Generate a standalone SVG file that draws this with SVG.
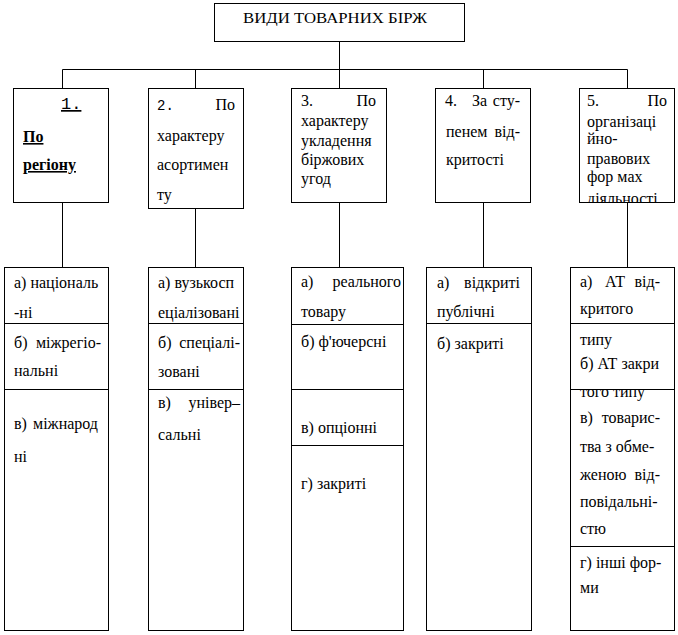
<svg xmlns="http://www.w3.org/2000/svg" width="678" height="635" viewBox="0 0 678 635">
<style>
.b{fill:#fff;stroke:#000;stroke-width:1}
.l{stroke:#000;stroke-width:1;fill:none}
text{font-family:'Liberation Serif','Tinos','Times New Roman','DejaVu Serif',serif;font-size:16px;fill:#000}
text.m{font-family:'Liberation Mono','Cousine','Courier New','DejaVu Sans Mono',monospace}
.e{text-anchor:end}
.u{text-decoration:underline}
.bd{font-weight:bold}
</style>
<defs>
<clipPath id="clip5"><rect x="579" y="88" width="96" height="114"/></clipPath>
<clipPath id="clipc5"><rect x="570" y="390" width="105" height="156"/></clipPath>
</defs>
<rect width="678" height="635" fill="#fff"/>
<g id="connectors">
<path class="l" d="M339.5 41.5V69.5M62.5 69.5H627.5M62.5 69.5V88.5M195.5 69.5V88.5M339.5 69.5V88.5M483.5 69.5V88.5M627.5 69.5V88.5"/>
<path class="l" d="M62.5 202.5V267.5M195.5 208.5V267.5M339.5 202.5V267.5M483.5 202.5V267.5M627.5 202.5V267.5"/>
</g>
<g id="root">
<rect class="b" x="214.5" y="3.5" width="250" height="38"/>
<text x="243" y="23" font-family="Liberation Serif, serif" style="font-size:15px" textLength="184" lengthAdjust="spacingAndGlyphs">ВИДИ ТОВАРНИХ БІРЖ</text>
</g>
<g id="n1">
<rect class="b" x="13.5" y="88.5" width="95" height="114"/>
<text class="m u" x="61" y="109" style="font-size:17px">1.</text>
<text class="bd u" x="23" y="142">По</text>
<text class="bd u" x="23" y="170">регіону</text>
</g>
<g id="n2">
<rect class="b" x="148.5" y="88.5" width="95" height="120"/>
<text class="m" x="157" y="110" style="font-size:14px">2.</text>
<text class="e" x="235" y="110">По</text>
<text x="157" y="141">характеру</text>
<text x="157" y="170">асортимен</text>
<text x="157" y="200">ту</text>
</g>
<g id="n3">
<rect class="b" x="291.5" y="88.5" width="95" height="114"/>
<text x="301" y="106">3.</text>
<text class="e" x="376" y="106">По</text>
<text x="301" y="126">характеру</text>
<text x="301" y="146">укладення</text>
<text x="301" y="165">біржових</text>
<text x="301" y="184">угод</text>
</g>
<g id="n4">
<rect class="b" x="435.5" y="88.5" width="95" height="114"/>
<text x="445" y="106">4.</text>
<text x="472" y="106">За</text>
<text class="e" x="520" y="106">сту-</text>
<text x="446" y="137">пенем</text>
<text class="e" x="520" y="137">від-</text>
<text x="446" y="165">критості</text>
</g>
<g id="n5">
<rect class="b" x="579.5" y="88.5" width="95" height="114"/>
<text x="587" y="106">5.</text>
<text class="e" x="667" y="106">По</text>
<text x="587" y="127">організаці</text>
<text x="587" y="144">йно-</text>
<text x="587" y="164">правових</text>
<text x="587" y="182">фор мах</text>
<text x="587" y="204" clip-path="url(#clip5)">діяльності</text>
</g>
<g id="c1">
<rect class="b" x="4.5" y="267.5" width="104" height="363"/>
<path class="l" d="M4.5 323.5H108.5M4.5 389.5H108.5"/>
<text x="14" y="288">а) національ</text>
<text x="14" y="318">-ні</text>
<text x="14" y="348">б)</text>
<text class="e" x="101" y="348">міжрегіо-</text>
<text x="14" y="376">нальні</text>
<text x="14" y="429">в)</text>
<text x="33" y="429">міжнарод</text>
<text x="14" y="462">ні</text>
</g>
<g id="c2">
<rect class="b" x="148.5" y="267.5" width="95" height="363"/>
<path class="l" d="M148.5 323.5H243.5M148.5 389.5H243.5"/>
<text x="158" y="288">а) вузькосп</text>
<text x="158" y="318">еціалізовані</text>
<text x="158" y="348">б)</text>
<text class="e" x="240" y="348">спеціалі-</text>
<text x="158" y="377">зовані</text>
<text x="158" y="408">в)</text>
<text class="e" x="240" y="408">універ–</text>
<text x="158" y="440">сальні</text>
</g>
<g id="c3">
<rect class="b" x="291.5" y="267.5" width="112" height="363"/>
<path class="l" d="M291.5 324.5H403.5M291.5 389.5H403.5M291.5 445.5H403.5"/>
<text x="301" y="287">а)</text>
<text class="e" x="401" y="287">реального</text>
<text x="301" y="317">товару</text>
<text x="301" y="347">б) ф'ючерсні</text>
<text x="301" y="433">в) опціонні</text>
<text x="301" y="489">г) закриті</text>
</g>
<g id="c4">
<rect class="b" x="426.5" y="267.5" width="105" height="363"/>
<path class="l" d="M426.5 323.5H531.5"/>
<text x="437" y="288">а)</text>
<text class="e" x="520" y="288">відкриті</text>
<text x="437" y="317">публічні</text>
<text x="437" y="349">б) закриті</text>
</g>
<g id="c5">
<rect class="b" x="570.5" y="267.5" width="104" height="363"/>
<path class="l" d="M570.5 323.5H674.5M570.5 389.5H674.5M570.5 546.5H674.5"/>
<text x="580" y="287">а)</text>
<text x="605" y="287">АТ</text>
<text class="e" x="660" y="287">від-</text>
<text x="580" y="314">критого</text>
<text x="580" y="345">типу</text>
<text x="580" y="369">б) АТ закри</text>
<text x="580" y="397" clip-path="url(#clipc5)">того типу</text>
<text x="580" y="423">в)</text>
<text class="e" x="660" y="423">товарис-</text>
<text x="580" y="452">тва з обме-</text>
<text x="580" y="480">женою</text>
<text class="e" x="660" y="480">від-</text>
<text x="580" y="507">повідальні-</text>
<text x="580" y="534">стю</text>
<text x="580" y="568">г) інші фор-</text>
<text x="580" y="593">ми</text>
</g>
</svg>
